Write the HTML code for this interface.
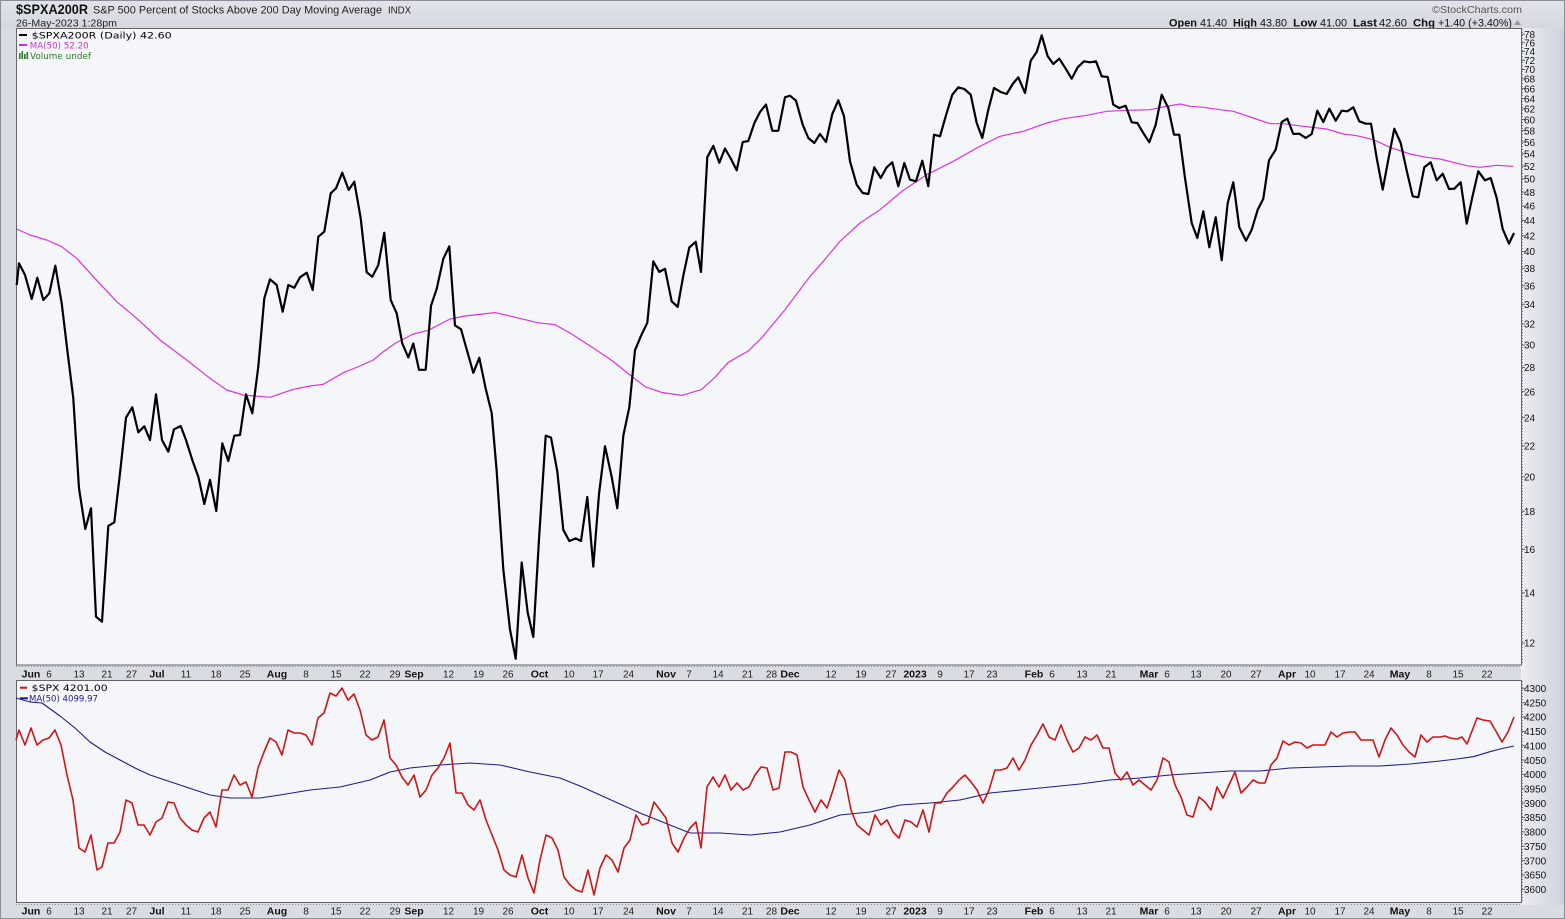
<!DOCTYPE html>
<html><head><meta charset="utf-8"><style>
html,body{margin:0;padding:0;background:#d9dce3;}
svg{display:block;}
text{font-family:"Liberation Sans",Arial,sans-serif;}
.ax{font-size:10px;fill:#111;}
.xl{font-size:10px;fill:#222;text-anchor:middle;}
.xm{font-size:10.5px;font-weight:bold;fill:#111;text-anchor:middle;}
.lg{font-family:"DejaVu Sans",Verdana,sans-serif;font-size:9px;}
</style></head><body>
<svg width="1565" height="919" viewBox="0 0 1565 919" xmlns="http://www.w3.org/2000/svg">
<defs>
<linearGradient id="rg" x1="0" x2="1" y1="0" y2="0"><stop offset="0" stop-color="#eceef3"/><stop offset="1" stop-color="#cdd1db"/></linearGradient>
<linearGradient id="tg" x1="0" x2="0" y1="0" y2="1"><stop offset="0" stop-color="#e2e4ea"/><stop offset="1" stop-color="#d5d8e0"/></linearGradient>
</defs>
<rect x="0" y="0" width="1565" height="919" fill="#d9dce3"/>
<rect x="0" y="0" width="1565" height="28" fill="url(#tg)"/>
<rect x="1521" y="28" width="44" height="877" fill="url(#rg)"/>
<rect x="0.5" y="0.5" width="1564" height="918" fill="none" stroke="#8a8f99"/>

<!-- header -->
<text x="16" y="14" font-size="14" font-weight="bold" fill="#111" textLength="72" lengthAdjust="spacingAndGlyphs">$SPXA200R</text>
<text x="93" y="13.5" font-size="11" fill="#222" textLength="289" lengthAdjust="spacingAndGlyphs">S&amp;P 500 Percent of Stocks Above 200 Day Moving Average</text>
<text x="388" y="13.5" font-size="10.5" fill="#222" textLength="23" lengthAdjust="spacingAndGlyphs">INDX</text>
<text x="16" y="26.5" font-size="10" fill="#222" textLength="101" lengthAdjust="spacingAndGlyphs">26-May-2023 1:28pm</text>
<text x="1432" y="13" font-size="10.5" fill="#555" textLength="90" lengthAdjust="spacingAndGlyphs">©StockCharts.com</text>
<g font-size="11" fill="#111">
<text x="1169" y="26.5" font-weight="bold" textLength="28" lengthAdjust="spacingAndGlyphs">Open</text>
<text x="1200" y="26.5" textLength="27" lengthAdjust="spacingAndGlyphs">41.40</text>
<text x="1233" y="26.5" font-weight="bold" textLength="24" lengthAdjust="spacingAndGlyphs">High</text>
<text x="1260" y="26.5" textLength="27" lengthAdjust="spacingAndGlyphs">43.80</text>
<text x="1293" y="26.5" font-weight="bold" textLength="24" lengthAdjust="spacingAndGlyphs">Low</text>
<text x="1320" y="26.5" textLength="27" lengthAdjust="spacingAndGlyphs">41.00</text>
<text x="1353" y="26.5" font-weight="bold" textLength="24" lengthAdjust="spacingAndGlyphs">Last</text>
<text x="1379" y="26.5" textLength="28" lengthAdjust="spacingAndGlyphs">42.60</text>
<text x="1413" y="26.5" font-weight="bold" textLength="22" lengthAdjust="spacingAndGlyphs">Chg</text>
<text x="1438" y="26.5" textLength="74" lengthAdjust="spacingAndGlyphs">+1.40 (+3.40%)</text>
</g>
<polygon points="1514,25 1521,25 1517.5,20" fill="#999"/>

<!-- top panel -->
<rect x="16.5" y="28.5" width="1505" height="636.5" fill="#f5f6fa" stroke="#666"/>
<line x1="1522.5" y1="29" x2="1522.5" y2="665" stroke="#888" stroke-dasharray="1,2"/>
<g stroke="#666" stroke-width="1">
<line x1="1521" x2="1525" y1="34.3" y2="34.3"/><line x1="1521" x2="1525" y1="42.7" y2="42.7"/><line x1="1521" x2="1525" y1="51.4" y2="51.4"/><line x1="1521" x2="1525" y1="60.3" y2="60.3"/><line x1="1521" x2="1525" y1="69.5" y2="69.5"/><line x1="1521" x2="1525" y1="78.9" y2="78.9"/><line x1="1521" x2="1525" y1="88.6" y2="88.6"/><line x1="1521" x2="1525" y1="98.6" y2="98.6"/><line x1="1521" x2="1525" y1="109" y2="109"/><line x1="1521" x2="1525" y1="119.6" y2="119.6"/><line x1="1521" x2="1525" y1="130.6" y2="130.6"/><line x1="1521" x2="1525" y1="142.1" y2="142.1"/><line x1="1521" x2="1525" y1="153.9" y2="153.9"/><line x1="1521" x2="1525" y1="166.2" y2="166.2"/><line x1="1521" x2="1525" y1="178.9" y2="178.9"/><line x1="1521" x2="1525" y1="192.2" y2="192.2"/><line x1="1521" x2="1525" y1="206" y2="206"/><line x1="1521" x2="1525" y1="220.5" y2="220.5"/><line x1="1521" x2="1525" y1="235.6" y2="235.6"/><line x1="1521" x2="1525" y1="251.5" y2="251.5"/><line x1="1521" x2="1525" y1="268.2" y2="268.2"/><line x1="1521" x2="1525" y1="285.7" y2="285.7"/><line x1="1521" x2="1525" y1="304.3" y2="304.3"/><line x1="1521" x2="1525" y1="324" y2="324"/><line x1="1521" x2="1525" y1="345" y2="345"/><line x1="1521" x2="1525" y1="367.5" y2="367.5"/><line x1="1521" x2="1525" y1="391.6" y2="391.6"/><line x1="1521" x2="1525" y1="417.6" y2="417.6"/><line x1="1521" x2="1525" y1="445.9" y2="445.9"/><line x1="1521" x2="1525" y1="476.9" y2="476.9"/><line x1="1521" x2="1525" y1="511.2" y2="511.2"/><line x1="1521" x2="1525" y1="549.5" y2="549.5"/><line x1="1521" x2="1525" y1="592.9" y2="592.9"/><line x1="1521" x2="1525" y1="643" y2="643"/>
</g>
<g class="ax">
<text x="1524" y="38">78</text><text x="1524" y="46.4">76</text><text x="1524" y="55.1">74</text><text x="1524" y="64">72</text><text x="1524" y="73.2">70</text><text x="1524" y="82.6">68</text><text x="1524" y="92.3">66</text><text x="1524" y="102.3">64</text><text x="1524" y="112.7">62</text><text x="1524" y="123.3">60</text><text x="1524" y="134.3">58</text><text x="1524" y="145.8">56</text><text x="1524" y="157.6">54</text><text x="1524" y="169.9">52</text><text x="1524" y="182.6">50</text><text x="1524" y="195.9">48</text><text x="1524" y="209.7">46</text><text x="1524" y="224.2">44</text><text x="1524" y="239.3">42</text><text x="1524" y="255.2">40</text><text x="1524" y="271.9">38</text><text x="1524" y="289.4">36</text><text x="1524" y="308">34</text><text x="1524" y="327.7">32</text><text x="1524" y="348.7">30</text><text x="1524" y="371.2">28</text><text x="1524" y="395.3">26</text><text x="1524" y="421.3">24</text><text x="1524" y="449.6">22</text><text x="1524" y="480.6">20</text><text x="1524" y="514.9">18</text><text x="1524" y="553.2">16</text><text x="1524" y="596.6">14</text><text x="1524" y="646.7">12</text>
</g>

<polyline fill="none" stroke="#dd33dd" stroke-width="1.2" stroke-linejoin="round" points="16.7,229 30,235 46.7,240 61.7,246.7 76.7,258.3 93.3,276.7 116.7,301.7 136.7,318.3 160,340 186.7,360 210,378.3 226.7,390 243.3,395 270,397.3 293.3,389.3 310,386 323.3,384.3 343.3,372.7 360,366 373.3,360 383.3,351.7 395,343.5 413.3,334 428.3,330.3 450,319 465,316 495,312.6 511.7,316.4 538.3,322.8 555,324.6 571.7,334 595,349.1 611.7,360.4 628.3,373.6 645,386.7 661.7,392.4 681.7,395.4 701.7,389.4 715,377.3 728.3,362.3 748.3,351 761.7,337.8 785,309.6 809.3,277.3 823.3,261.3 840,241.3 860,223 880,209.7 903.3,190.3 926.7,174.7 953.3,161.3 976.7,148 1000,136.3 1023.3,131.3 1046.7,123 1063.3,118.7 1086.7,115.3 1106.7,111.3 1126.7,110.3 1150,109.7 1163.3,107 1180,104 1190,106.3 1203.3,107.3 1220,109.7 1233.3,111.3 1253.3,118 1270,123.7 1283.3,123.7 1303.3,126.3 1326.7,129 1343.3,134 1356.7,135.7 1373.3,139.7 1390,147.3 1410,154 1426.7,157.3 1440,159 1453.3,162.3 1466.7,165.7 1480,167.3 1496.7,165.3 1513.3,166.3"/>

<polyline fill="none" stroke="#000" stroke-width="2.2" stroke-linejoin="round" points="16.7,285 19,263.3 25,275 31.7,299 37.3,277.7 43.3,300 49.3,293.3 55.3,265.7 61.7,303.3 67.3,350 73.3,398.3 79,488.3 85.3,529 91,508.3 96,616.7 102,621.7 108.3,526 114.3,522.3 120,473.3 126,417.7 132.3,407.3 138.3,432.3 144.3,426.3 150,440 156,394.3 162,440 168.3,451.7 174,429.3 180.7,426 186,440 192.3,460 198.3,476.7 204.3,504 210,480 216.3,511 222.3,443.3 228.3,461 234.3,435.7 240,435 246,394.3 252.3,413.3 258.3,366.7 264.3,298.3 270,279.3 276.7,285 282.7,311.7 288.3,285 294.3,287.7 300,277.3 306.7,272.7 312.7,290 318.3,236.7 324.3,231.7 330.7,193.3 336,188.3 342.3,172.7 348.7,190 354.3,181.7 360.7,218.3 366.7,272.3 372.3,276.7 378.3,265 384.3,232.7 390.7,300 396.7,313.3 402.3,343.5 408.3,357.4 413.3,343.5 419,369.8 425.7,369.8 431,305.8 436.7,288.9 443.3,258.8 449.3,246.4 455,325.4 461,329.2 467.7,352.9 473.3,372.8 479.3,357.8 485.7,388.6 491.7,413.1 496.7,471.4 503.3,569.3 510,629.5 515.7,658.8 521.7,562.5 527.7,612.6 533.3,637 539,539.2 545.7,435.7 551,437.5 557.3,471.4 563.3,529.8 569.3,541 575.7,538.4 581,541 587.3,497 593.3,566.6 599,494 605,446.2 611.7,477 617.3,508.3 623.3,435.7 629.3,407.4 635,350.2 641,335.9 647.3,322.8 653.3,261.4 659.3,271.9 665,268.9 671.7,301.3 677.7,306.9 683.3,275.7 689.3,247.5 695.7,241.8 701,271.9 707.3,157.2 713.3,145.9 719.3,162.8 725,148.5 731,159 736.7,170.3 742.7,142.1 748.3,141 754.3,123.3 760,112 766,104.5 772.3,130.8 778.3,130.8 785,97.3 790,95.7 796,100.7 802.7,124.7 808.3,138 814.3,143 820,134 826,142 832.3,114 838.3,100.3 844,116.3 850,161.3 856.7,184.7 862.7,193 868.3,194 874.3,167.3 880.7,178 886.7,167.3 892.3,162.3 898.3,186.3 904.3,163 910,179.7 916,181.3 922.3,160.7 928.3,186.3 934,134.7 940,136.3 946,115.3 952.3,94.7 958.3,87.3 964.3,89 970.7,94.7 976.7,123 982.3,138 988.3,109.7 994,88 1000.7,92 1006.7,94 1012.7,84 1018.3,77.3 1025,93 1030.7,60.7 1036.7,52 1041.7,35.3 1047.7,56.3 1053.3,64 1059.3,58.7 1065.7,68.7 1071.7,78.7 1077.7,67.3 1084,61.3 1090,62.3 1096,61.3 1101.7,76.3 1107.7,77 1113.3,104.7 1119.3,108 1125.7,105.7 1131.7,122.3 1137.3,123 1143.3,133 1149.3,142.3 1155.7,124.7 1161.7,94.7 1168.3,108 1174,134.7 1179.3,134.7 1185,178 1191.7,223 1197.3,238 1203.3,211.3 1209.3,247.3 1215.7,217.3 1221.7,260.3 1227.7,203 1233.3,182.3 1239.3,227.3 1246,240.7 1251.7,229.7 1257.7,209.7 1263.3,198.7 1269,160.3 1275.7,149.7 1281.7,122 1287.3,118.7 1293.3,134 1299.3,133.7 1305.7,138 1311.7,134 1317.3,110.7 1323.3,122 1329.3,108.7 1335.7,120.7 1341.7,110.7 1347.3,111.3 1353.3,107.3 1359.3,121.3 1365.7,123.7 1371,123.7 1376.7,158 1382.7,189.7 1388.3,159.7 1394.3,128.7 1400.7,143 1406.7,170.7 1412.7,196.3 1418.3,197.3 1424.3,167.3 1430.7,162.3 1436.7,180.3 1442.7,173.7 1449,189 1454.3,188.7 1460.7,182.3 1466.7,223.7 1472.3,197.3 1478.3,171.3 1485,180.3 1490.7,178 1496.7,198 1502.7,229 1509,243.7 1514,233"/>

<!-- top legend -->
<line x1="19" y1="35" x2="27" y2="35" stroke="#000" stroke-width="2"/>
<text class="lg" x="31.7" y="38.5" fill="#000" textLength="140" lengthAdjust="spacingAndGlyphs">$SPXA200R (Daily) 42.60</text>
<line x1="19" y1="45" x2="27" y2="45" stroke="#cc33cc" stroke-width="2"/>
<text class="lg" x="29.7" y="48.5" fill="#cc33cc" textLength="59" lengthAdjust="spacingAndGlyphs">MA(50) 52.20</text>
<g fill="#2d7a2d"><rect x="19" y="53" width="1.6" height="6"/><rect x="21.5" y="51" width="1.6" height="8"/><rect x="24" y="54" width="1.6" height="5"/><rect x="26.5" y="52" width="1.6" height="7"/></g>
<text class="lg" x="30" y="59" fill="#2d7a2d" textLength="61" lengthAdjust="spacingAndGlyphs">Volume undef</text>

<!-- middle x-axis strip -->
<line x1="16" y1="666.5" x2="1521" y2="666.5" stroke="#8a8e98" stroke-dasharray="1,2"/>
<g>
<text class="xm" x="31" y="677.5">Jun</text><text class="xl" x="49" y="677.5">6</text><text class="xl" x="79" y="677.5">13</text><text class="xl" x="107" y="677.5">21</text><text class="xl" x="131.5" y="677.5">27</text>
<text class="xm" x="157" y="677.5">Jul</text><text class="xl" x="186" y="677.5">11</text><text class="xl" x="216" y="677.5">18</text><text class="xl" x="245" y="677.5">25</text>
<text class="xm" x="277" y="677.5">Aug</text><text class="xl" x="306" y="677.5">8</text><text class="xl" x="336" y="677.5">15</text><text class="xl" x="365" y="677.5">22</text><text class="xl" x="395" y="677.5">29</text>
<text class="xm" x="414" y="677.5">Sep</text><text class="xl" x="448.5" y="677.5">12</text><text class="xl" x="478.5" y="677.5">19</text><text class="xl" x="508" y="677.5">26</text>
<text class="xm" x="539.5" y="677.5">Oct</text><text class="xl" x="569" y="677.5">10</text><text class="xl" x="598" y="677.5">17</text><text class="xl" x="628.5" y="677.5">24</text>
<text class="xm" x="666" y="677.5">Nov</text><text class="xl" x="689" y="677.5">7</text><text class="xl" x="718" y="677.5">14</text><text class="xl" x="747.5" y="677.5">21</text><text class="xl" x="771.5" y="677.5">28</text>
<text class="xm" x="790" y="677.5">Dec</text><text class="xl" x="831" y="677.5">12</text><text class="xl" x="861" y="677.5">19</text><text class="xl" x="891" y="677.5">27</text>
<text class="xm" x="915" y="677.5">2023</text><text class="xl" x="940" y="677.5">9</text><text class="xl" x="969" y="677.5">17</text><text class="xl" x="992" y="677.5">23</text>
<text class="xm" x="1034" y="677.5">Feb</text><text class="xl" x="1052" y="677.5">6</text><text class="xl" x="1082" y="677.5">13</text><text class="xl" x="1111" y="677.5">21</text>
<text class="xm" x="1149" y="677.5">Mar</text><text class="xl" x="1167" y="677.5">6</text><text class="xl" x="1196" y="677.5">13</text><text class="xl" x="1226" y="677.5">20</text><text class="xl" x="1256" y="677.5">27</text>
<text class="xm" x="1287" y="677.5">Apr</text><text class="xl" x="1310" y="677.5">10</text><text class="xl" x="1340" y="677.5">17</text><text class="xl" x="1369" y="677.5">24</text>
<text class="xm" x="1400" y="677.5">May</text><text class="xl" x="1429" y="677.5">8</text><text class="xl" x="1458" y="677.5">15</text><text class="xl" x="1487" y="677.5">22</text>
</g>

<!-- lower panel -->
<rect x="16.5" y="680.5" width="1505" height="222" fill="#f5f6fa" stroke="#666"/>
<line x1="1522.5" y1="681" x2="1522.5" y2="902" stroke="#888" stroke-dasharray="1,2"/>
<g stroke="#666">
<line x1="1521" x2="1525" y1="688.3" y2="688.3"/><line x1="1521" x2="1525" y1="702.7" y2="702.7"/><line x1="1521" x2="1525" y1="717" y2="717"/><line x1="1521" x2="1525" y1="731.4" y2="731.4"/><line x1="1521" x2="1525" y1="745.7" y2="745.7"/><line x1="1521" x2="1525" y1="760.1" y2="760.1"/><line x1="1521" x2="1525" y1="774.4" y2="774.4"/><line x1="1521" x2="1525" y1="788.8" y2="788.8"/><line x1="1521" x2="1525" y1="803.1" y2="803.1"/><line x1="1521" x2="1525" y1="817.5" y2="817.5"/><line x1="1521" x2="1525" y1="831.9" y2="831.9"/><line x1="1521" x2="1525" y1="846.2" y2="846.2"/><line x1="1521" x2="1525" y1="860.6" y2="860.6"/><line x1="1521" x2="1525" y1="874.9" y2="874.9"/><line x1="1521" x2="1525" y1="889.3" y2="889.3"/>
</g>
<g class="ax">
<text x="1524" y="692">4300</text><text x="1524" y="706.4">4250</text><text x="1524" y="720.7">4200</text><text x="1524" y="735.1">4150</text><text x="1524" y="749.4">4100</text><text x="1524" y="763.8">4050</text><text x="1524" y="778.1">4000</text><text x="1524" y="792.5">3950</text><text x="1524" y="806.8">3900</text><text x="1524" y="821.2">3850</text><text x="1524" y="835.6">3800</text><text x="1524" y="849.9">3750</text><text x="1524" y="864.3">3700</text><text x="1524" y="878.6">3650</text><text x="1524" y="893">3600</text>
</g>

<polyline fill="none" stroke="#1c1c88" stroke-width="1.1" stroke-linejoin="round" points="16,698 30,702 42,703 60,716 75,728 90,742 105,752 120,760 135,768 150,775 165,780 180,785 195,790 210,795 230,798 260,798 280,795 310,790 340,787 370,780 390,772 410,768 440,765 470,763 500,765 530,772 560,778 580,786 600,795 620,804 640,813 655,819 670,825 690,833 720,833 750,835 780,832 810,825 840,815 870,812 900,805 930,803 960,800 990,793 1020,790 1050,787 1080,784 1110,780 1140,778 1170,775 1200,773 1230,771 1260,771 1290,768 1320,767 1350,766 1380,766 1410,764 1440,761 1456.7,759 1473.3,756.7 1490,751.7 1500,749 1514,746"/>

<polyline fill="none" stroke="#d01515" stroke-width="1.6" stroke-linejoin="round" points="16,740 19,730 25,745 31,728 37,745 43,740 49,738 55,730 61,745 67,775 73,800 79,848 85,852 91,835 97,870 102,867 108,843 114,843 120,832 126,800 132,803 138,825 144,825 150,835 156,822 162,818 168,802 174,803 180,818 186,825 192,830 198,832 204,818 210,812 216,827 222,790 228,790 234,775 240,785 246,782 252,797 258,768 264,752 270,738 276,742 282,755 288,730 294,733 300,733 306,735 312,745 318,718 324,713 330,693 336,696 342,688 348,700 354,694 360,710 366,735 372,740 378,737 384,720 390,758 396,765 402,777 408,785 414,775 420,797 426,790 432,775 438,768 444,758 450,743 456,793 462,793 468,805 474,810 480,800 486,820 492,835 498,850 504,870 510,875 516,877 522,855 528,878 534,893 540,860 546,835 552,838 558,850 564,877 570,885 576,890 582,892 588,870 594,895 600,868 606,855 612,860 618,872 624,848 630,840 636,815 642,825 648,823 654,802 660,810 666,818 672,843 678,852 684,838 690,828 696,822 701,848 707,787 713,777 719,787 725,775 731,790 737,783 743,790 749,787 755,775 761,767 767,768 773,790 779,788 785,752 791,752 797,755 803,787 809,800 815,812 821,800 827,808 833,790 839,770 845,780 851,810 857,825 863,830 869,835 875,815 881,825 887,820 893,832 899,838 905,820 911,822 917,827 923,810 929,832 935,803 941,803 947,793 953,787 959,780 965,775 971,782 977,790 983,803 989,790 995,770 1001,770 1007,768 1013,758 1019,770 1025,760 1031,745 1037,735 1043,724 1049,737 1055,740 1061,725 1067,740 1073,752 1079,748 1085,737 1091,740 1097,735 1103,748 1109,748 1115,773 1121,780 1127,772 1133,785 1139,780 1145,785 1151,790 1157,780 1163,758 1169,762 1175,785 1181,797 1187,815 1193,817 1199,797 1205,802 1211,810 1217,787 1223,798 1229,785 1235,772 1241,793 1247,787 1253,780 1259,783 1265,783 1271,765 1277,758 1283,741 1289,745 1295,742 1301,743 1307,748 1313,745 1319,745 1325,745 1331,732 1337,737 1343,733 1349,732 1355,732 1361,740 1367,740 1373,740 1379,757 1385,740 1391,728 1397,735 1403,745 1409,752 1415,757 1421,735 1427,742 1433,737 1440,737 1445,736 1450,738 1457,739 1462,737 1467,744 1477,718 1483,720 1490,721 1497,733 1502,742 1508,732 1514,717"/>

<!-- lower legend -->
<line x1="20" y1="687.7" x2="27" y2="687.7" stroke="#d01515" stroke-width="2"/>
<text class="lg" x="31.7" y="691" fill="#000" textLength="76" lengthAdjust="spacingAndGlyphs">$SPX 4201.00</text>
<line x1="20" y1="698.3" x2="28" y2="698.3" stroke="#1c1c88" stroke-width="2"/>
<text class="lg" x="29" y="701.5" fill="#1c1c88" textLength="69" lengthAdjust="spacingAndGlyphs">MA(50) 4099.97</text>

<!-- bottom x-axis strip -->
<line x1="16" y1="904.5" x2="1521" y2="904.5" stroke="#8a8e98" stroke-dasharray="1,2"/>
<g>
<text class="xm" x="31" y="914.5">Jun</text><text class="xl" x="49" y="914.5">6</text><text class="xl" x="79" y="914.5">13</text><text class="xl" x="107" y="914.5">21</text><text class="xl" x="131.5" y="914.5">27</text>
<text class="xm" x="157" y="914.5">Jul</text><text class="xl" x="186" y="914.5">11</text><text class="xl" x="216" y="914.5">18</text><text class="xl" x="245" y="914.5">25</text>
<text class="xm" x="277" y="914.5">Aug</text><text class="xl" x="306" y="914.5">8</text><text class="xl" x="336" y="914.5">15</text><text class="xl" x="365" y="914.5">22</text><text class="xl" x="395" y="914.5">29</text>
<text class="xm" x="414" y="914.5">Sep</text><text class="xl" x="448.5" y="914.5">12</text><text class="xl" x="478.5" y="914.5">19</text><text class="xl" x="508" y="914.5">26</text>
<text class="xm" x="539.5" y="914.5">Oct</text><text class="xl" x="569" y="914.5">10</text><text class="xl" x="598" y="914.5">17</text><text class="xl" x="628.5" y="914.5">24</text>
<text class="xm" x="666" y="914.5">Nov</text><text class="xl" x="689" y="914.5">7</text><text class="xl" x="718" y="914.5">14</text><text class="xl" x="747.5" y="914.5">21</text><text class="xl" x="771.5" y="914.5">28</text>
<text class="xm" x="790" y="914.5">Dec</text><text class="xl" x="831" y="914.5">12</text><text class="xl" x="861" y="914.5">19</text><text class="xl" x="891" y="914.5">27</text>
<text class="xm" x="915" y="914.5">2023</text><text class="xl" x="940" y="914.5">9</text><text class="xl" x="969" y="914.5">17</text><text class="xl" x="992" y="914.5">23</text>
<text class="xm" x="1034" y="914.5">Feb</text><text class="xl" x="1052" y="914.5">6</text><text class="xl" x="1082" y="914.5">13</text><text class="xl" x="1111" y="914.5">21</text>
<text class="xm" x="1149" y="914.5">Mar</text><text class="xl" x="1167" y="914.5">6</text><text class="xl" x="1196" y="914.5">13</text><text class="xl" x="1226" y="914.5">20</text><text class="xl" x="1256" y="914.5">27</text>
<text class="xm" x="1287" y="914.5">Apr</text><text class="xl" x="1310" y="914.5">10</text><text class="xl" x="1340" y="914.5">17</text><text class="xl" x="1369" y="914.5">24</text>
<text class="xm" x="1400" y="914.5">May</text><text class="xl" x="1429" y="914.5">8</text><text class="xl" x="1458" y="914.5">15</text><text class="xl" x="1487" y="914.5">22</text>
</g>
</svg>
</body></html>
